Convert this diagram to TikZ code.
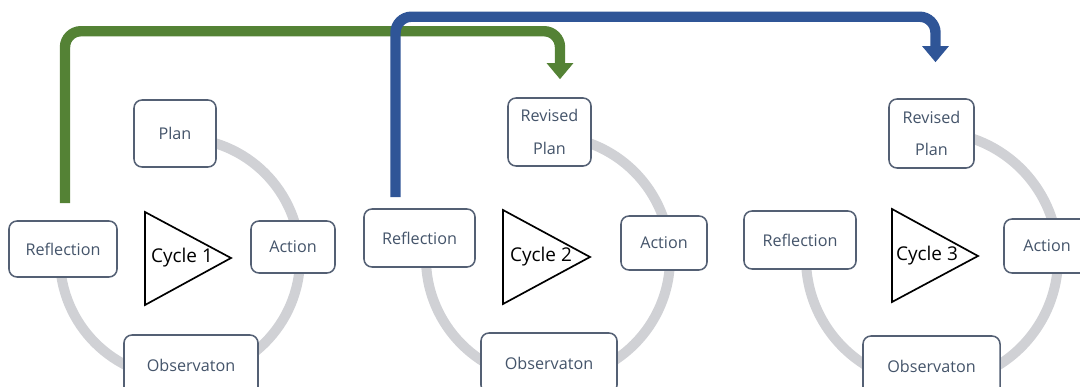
\documentclass[tikz,border=0pt]{standalone}
\usepackage{fontspec}
\setmainfont{Open Sans}
\usetikzlibrary{arrows.meta}

\definecolor{ringgray}{RGB}{208,209,213}
\definecolor{boxline}{RGB}{84,96,116}
\definecolor{labeltext}{RGB}{68,84,106}
\definecolor{flowgreen}{RGB}{84,130,53}
\definecolor{flowblue}{RGB}{47,85,151}

\begin{document}
\begin{tikzpicture}[x=0.025cm, y=-0.025cm,
    stage/.style={draw=boxline, line width=1.1pt, rounded corners=0.2cm, fill=white,
        text=labeltext, font=\fontsize{11.5}{13}\selectfont, align=center, inner sep=0pt},
    ring/.style={ringgray, line width=0.25cm},
    cyclelabel/.style={font=\fontsize{13.5}{15}\selectfont, text=black, inner sep=0pt},
    flow/.style={line width=0.26cm, rounded corners=0.4cm,
        -{Triangle[width=0.64cm,length=0.4cm]}}]

% Page frame
\clip (0,0) rectangle (1080,387);

% Draw the grey rings behind the boxes (left -> bottom -> right -> top)
\draw[ring] (180,258) ++(180:3cm) arc[start angle=180, end angle=450, radius=3cm];
\draw[ring] (548,258) ++(180:3.05cm) arc[start angle=180, end angle=450, radius=3.05cm];
\draw[ring] (932,258) ++(180:3.15cm) arc[start angle=180, end angle=450, radius=3.15cm];

% Cycle 1
\node[stage, minimum width=2.05cm, minimum height=1.675cm] (plan1) at (175,133.5) {Plan};
\node[stage, minimum width=2.1cm, minimum height=1.3cm] (act1) at (293,247) {Action};
\node[stage, minimum width=3.35cm, minimum height=1.5cm] (obs1) at (191,365) {Observaton};
\node[stage, minimum width=2.7cm, minimum height=1.4cm] (refl1) at (63,249) {Reflection};
\draw[line width=1.2pt] (145,212) -- (231,258) -- (145,305) -- cycle;
\node[cyclelabel] (cyc1) at (182,258) {Cycle 1};

% Cycle 2
\node[stage, minimum width=2.075cm, minimum height=1.7cm] (plan2) at (549.5,132) {Revised\\[10pt]Plan};
\node[stage, minimum width=2.15cm, minimum height=1.35cm] (act2) at (664,243) {Action};
\node[stage, minimum width=3.4cm, minimum height=1.5cm] (obs2) at (549,363) {Observaton};
\node[stage, minimum width=2.775cm, minimum height=1.45cm] (refl2) at (419.5,238) {Reflection};
\draw[line width=1.2pt] (503,210) -- (590,257) -- (503,304) -- cycle;
\node[cyclelabel] (cyc2) at (541,257) {Cycle 2};

% Cycle 3
\node[stage, minimum width=2.125cm, minimum height=1.725cm] (plan3) at (931.5,133.5) {Revised\\[10pt]Plan};
\node[stage, minimum width=2.15cm, minimum height=1.35cm] (act3) at (1047,246) {Action};
\node[stage, minimum width=3.425cm, minimum height=1.5cm] (obs3) at (931.5,366) {Observaton};
\node[stage, minimum width=2.8cm, minimum height=1.45cm] (refl3) at (800,240) {Reflection};
\draw[line width=1.2pt] (892,209) -- (978,256) -- (892,302) -- cycle;
\node[cyclelabel] (cyc3) at (927,256) {Cycle 3};

% Feedback from each reflection into the next plan
\draw[flow, flowgreen] ([shift={(2,-17)}]refl1.north) |- ([shift={(10.5,-66)}]plan2.north)
    -- ([shift={(10.5,-18)}]plan2.north);
\draw[flow, flowblue] ([shift={(-24,-11)}]refl2.north) |- ([shift={(4,-81.5)}]plan3.north)
    -- ([shift={(4,-36)}]plan3.north);

\end{tikzpicture}
\end{document}
